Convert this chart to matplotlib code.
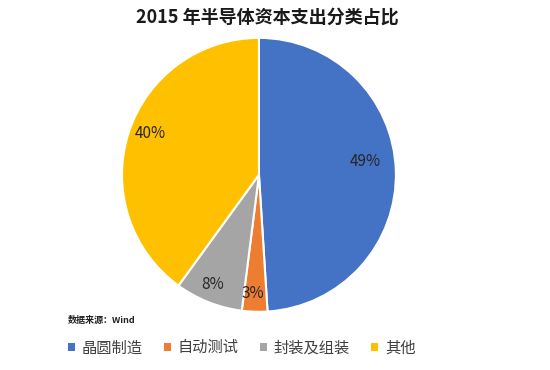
import matplotlib
matplotlib.use("Agg")
import matplotlib.pyplot as plt
from matplotlib.patches import Patch

plt.rcParams['font.family'] = ['Noto Sans CJK SC', 'DejaVu Sans']

categories = ["晶圆制造", "自动测试", "封装及组装", "其他"]
values = [49, 3, 8, 40]
colors = ["#4472C4", "#ED7D31", "#A5A5A5", "#FFC000"]
title = "2015 年半导体资本支出分类占比"
source = "数据来源：Wind"

# label placement (in pie-radius units) as in the reference
label_pos = [(0.78, 0.10), (-0.045, -0.87), (-0.335, -0.80), (-0.79, 0.30)]

fig = plt.figure(figsize=(5.5, 3.7), dpi=100)
ax = fig.add_axes([0.2218, 0.157, 0.498, 0.741])
wedges, texts, autotexts = ax.pie(
    values, colors=colors, startangle=90, counterclock=False,
    autopct=lambda p: f"{p:.0f}%", pctdistance=0.8,
    wedgeprops=dict(edgecolor="white", linewidth=1.5),
    textprops=dict(fontsize=11, color="#262626"))
for t, pos in zip(autotexts, label_pos):
    t.set_position(pos)
ax.set_aspect("equal")
ax.set_xlim(-1.0, 1.0)
ax.set_ylim(-1.0, 1.0)

fig.text(0.486, 0.953, title, ha="center", va="center", fontsize=13,
         fontweight="bold", color="#1a1a1a")
fig.text(0.124, 0.135, source, ha="left", va="center", fontsize=6.5,
         fontweight="bold", color="#222222")

handles = [Patch(facecolor=c, edgecolor="none") for c in colors]
fig.legend(handles, categories, loc="center left", bbox_to_anchor=(0.098, 0.06),
           ncol=4, frameon=False, fontsize=11, handlelength=0.45,
           handleheight=0.45, handletextpad=0.45, columnspacing=1.4,
           labelcolor="#404040")

fig.savefig("out.png", dpi=100)
